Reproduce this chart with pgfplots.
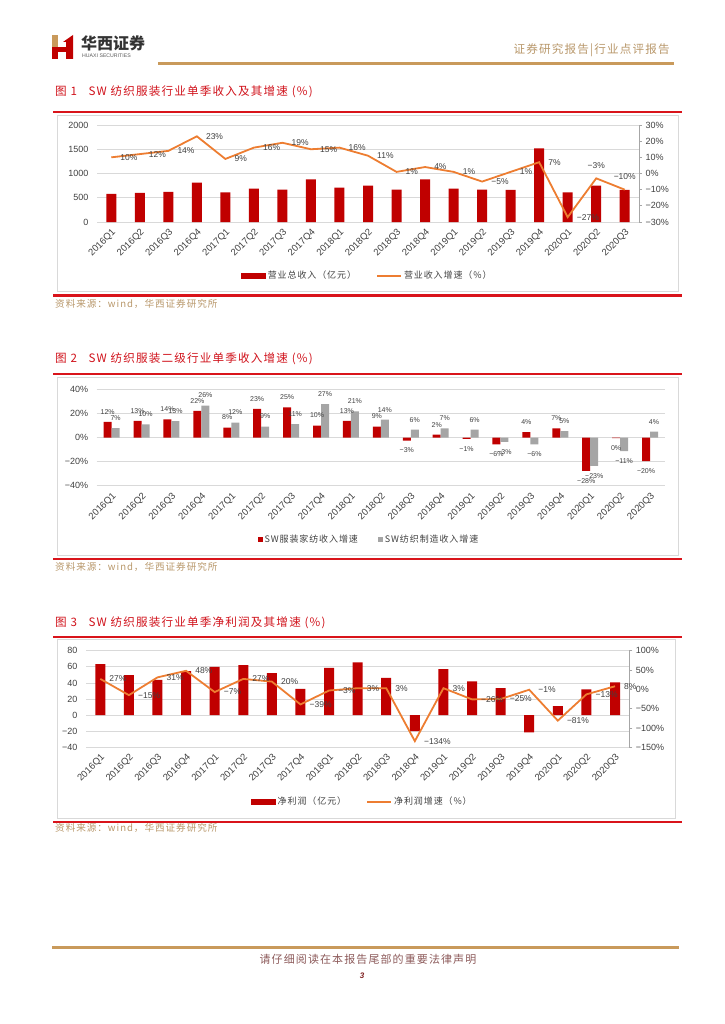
\documentclass[border=0pt]{standalone}
\usepackage{pgfplots}
\pgfplotsset{compat=1.18}
\usepackage{fontspec}
\setmainfont{Liberation Sans}
\newfontfamily\cjk[LetterSpace=10]{Noto Sans CJK SC}
\newfontfamily\cjkn{Noto Sans CJK SC}

\definecolor{bred}{HTML}{C00000}
\definecolor{lorange}{HTML}{ED7D31}
\definecolor{bgray}{HTML}{A5A5A5}
\definecolor{pagered}{HTML}{D9141B}
\definecolor{goldline}{HTML}{C99A5B}
\definecolor{tantext}{HTML}{B8976A}
\definecolor{gridc}{HTML}{D9D9D9}
\definecolor{tickc}{HTML}{404040}
\definecolor{axisc}{HTML}{A6A6A6}
\definecolor{footc}{HTML}{8C5A5A}
\definecolor{titlered}{HTML}{D0121B}
\definecolor{pagenum}{HTML}{7F1F1F}

\tikzset{
  rlab/.style={anchor=west, xshift=8pt, inner sep=1pt, font=\fontsize{8.5}{9}\selectfont, text=tickc},
  ulab/.style={anchor=south, yshift=9pt, inner sep=1pt, font=\fontsize{8.5}{9}\selectfont, text=tickc},
}
\pgfplotsset{
  basechart/.style={scale only axis, clip=false, xmin=-0.5, xmax=18.5,
    /pgf/number format/assume math mode=true,
    /pgf/number format/1000 sep={},
    tick style={draw=none}, axis line style={draw=none},
    ticklabel style={text=tickc, font=\fontsize{9}{10}\selectfont},
  },
  qlabels/.style={xtick={0,...,18},
    xticklabels={2016Q1,2016Q2,2016Q3,2016Q4,2017Q1,2017Q2,2017Q3,2017Q4,2018Q1,2018Q2,2018Q3,2018Q4,2019Q1,2019Q2,2019Q3,2019Q4,2020Q1,2020Q2,2020Q3},
    xticklabel style={rotate=45, anchor=north east, font=\fontsize{9.5}{10}\selectfont, inner sep=1pt}},
  rightline/.style={hide x axis, axis y line*=right,
    every non boxed y axis/.append style={y axis line style={-}},
    y axis line style={draw=axisc, line width=0.7pt, -},
    ytick style={draw=axisc, line width=0.7pt}, tick align=outside, major tick length=3pt},
  leftgrid/.style={ymajorgrids, grid style={gridc, line width=0.7pt}, yticklabel style={xshift=-5pt}},
  chartlegend/.style={legend style={draw=none, fill=none, legend columns=2, anchor=center,
    font=\cjk\fontsize{9}{10}\selectfont, text=tickc, inner sep=0pt,
    /tikz/every even column/.append style={column sep=18pt}}, legend cell align=left},
}

\begin{document}
\begin{tikzpicture}
\path[use as bounding box] (0pt,0pt) rectangle (724pt,-1024pt);

% ---------- header ----------
\fill[goldline] (52pt,-35pt) rectangle (57.5pt,-48pt);
\fill[bred] (52pt,-48pt) rectangle (58pt,-59pt);
\fill[bred] (52pt,-47pt) rectangle (68pt,-52pt);
\fill[bred] (63pt,-42pt) -- (73pt,-35pt) -- (73pt,-59pt) -- (66pt,-59pt) -- (66pt,-42pt) -- cycle;
\node[anchor=west, inner sep=0pt, text=black!80] at (81pt,-43.5pt) {\cjkn\bfseries\fontsize{16}{16}\selectfont 华西证券};
\node[anchor=west, inner sep=0pt, text=black!65] at (82pt,-55.5pt) {\fontsize{5.2}{5.2}\selectfont HUAXI SECURITIES};
\node[anchor=east, inner sep=0pt, text=tantext] at (670pt,-50pt) {\cjk\fontsize{11.6}{11.6}\selectfont 证券研究报告|行业点评报告};
\draw[goldline, line width=2.2pt] (158pt,-63.5pt) -- (674pt,-63.5pt);

% ---------- figure 1 frame ----------
\node[anchor=west, inner sep=0pt, text=titlered] at (55pt,-92pt) {\cjk\fontsize{11.6}{11.6}\selectfont 图 1\quad SW 纺织服装行业单季收入及其增速 (\%)};
\draw[pagered, line width=2pt] (53pt,-112pt) -- (682pt,-112pt);
\draw[gridc, line width=0.8pt] (57pt,-115pt) rectangle (678pt,-291pt);
\draw[pagered, line width=2.2pt] (53pt,-295.5pt) -- (682pt,-295.5pt);
\node[anchor=west, inner sep=0pt, text=tantext] at (55pt,-304pt) {\cjk\fontsize{9.6}{9.6}\selectfont 资料来源：wind，华西证券研究所};

% ---------- figure 2 frame ----------
\node[anchor=west, inner sep=0pt, text=titlered] at (55pt,-359pt) {\cjk\fontsize{11.6}{11.6}\selectfont 图 2\quad SW 纺织服装二级行业单季收入增速 (\%)};
\draw[pagered, line width=2pt] (53pt,-374.3pt) -- (682pt,-374.3pt);
\draw[gridc, line width=0.8pt] (57pt,-377pt) rectangle (678pt,-555pt);
\draw[pagered, line width=2.2pt] (53pt,-559.3pt) -- (682pt,-559.3pt);
\node[anchor=west, inner sep=0pt, text=tantext] at (55pt,-567pt) {\cjk\fontsize{9.6}{9.6}\selectfont 资料来源：wind，华西证券研究所};

% ---------- figure 3 frame ----------
\node[anchor=west, inner sep=0pt, text=titlered] at (55pt,-622.3pt) {\cjk\fontsize{11.6}{11.6}\selectfont 图 3\quad SW 纺织服装行业单季净利润及其增速 (\%)};
\draw[pagered, line width=2pt] (53pt,-636.7pt) -- (682pt,-636.7pt);
\draw[gridc, line width=0.8pt] (57pt,-639pt) rectangle (675pt,-818pt);
\draw[pagered, line width=2.2pt] (53pt,-821.7pt) -- (682pt,-821.7pt);
\node[anchor=west, inner sep=0pt, text=tantext] at (55pt,-828.3pt) {\cjk\fontsize{9.6}{9.6}\selectfont 资料来源：wind，华西证券研究所};

% ---------- footer ----------
\draw[goldline, line width=2.5pt] (52pt,-947.3pt) -- (679pt,-947.3pt);
\node[inner sep=0pt, text=footc] at (368pt,-959pt) {\cjk\fontsize{11}{11}\selectfont 请仔细阅读在本报告尾部的重要法律声明};
\node[inner sep=0pt, text=pagenum] at (362pt,-976pt) {\fontsize{8}{8}\selectfont\bfseries\itshape 3};

% ================= chart 1 =================
\begin{axis}[basechart, qlabels, leftgrid, at={(97pt,-222pt)}, anchor=south west,
  width=542pt, height=97pt, ymin=0, ymax=2000, ytick={0,500,1000,1500,2000},
  ybar, bar width=10pt]
\addplot[fill=bred, draw=none] coordinates {
(0,580) (1,600) (2,620) (3,810) (4,610) (5,690) (6,670) (7,880) (8,710) (9,750)
(10,670) (11,880) (12,690) (13,670) (14,660) (15,1520) (16,610) (17,750) (18,660)};
\end{axis}
\begin{axis}[basechart, rightline, chartlegend, at={(97pt,-222pt)}, anchor=south west,
  width=542pt, height=97pt, ymin=-30, ymax=30, ytick={-30,-20,-10,0,10,20,30},
  yticklabels={−30\%,−20\%,−10\%,0\%,10\%,20\%,30\%},
  legend style={at={(0.499,-0.554)}}]
\addlegendimage{legend image code/.code={\fill[bred] (0pt,-2.5pt) rectangle (24pt,2.5pt);}}
\addlegendentry{营业总收入（亿元）}
\addplot[lorange, line width=1.8pt, mark=none,
  legend image code/.code={\draw[lorange, line width=2pt] (0pt,0pt) -- (24pt,0pt);}]
  coordinates {
(0,10) (1,12) (2,14) (3,23) (4,9) (5,16) (6,19) (7,15) (8,16) (9,11)
(10,1) (11,4) (12,1) (13,-5) (14,1) (15,7) (16,-27) (17,-3) (18,-10)};
\addlegendentry{营业收入增速（\%）}
\node[rlab] at (axis cs:0,10) {10\%};
\node[rlab] at (axis cs:1,12) {12\%};
\node[rlab] at (axis cs:2,14) {14\%};
\node[rlab] at (axis cs:3,23) {23\%};
\node[rlab] at (axis cs:4,9) {9\%};
\node[rlab] at (axis cs:5,16) {16\%};
\node[rlab] at (axis cs:6,19) {19\%};
\node[rlab] at (axis cs:7,15) {15\%};
\node[rlab] at (axis cs:8,16) {16\%};
\node[rlab] at (axis cs:9,11) {11\%};
\node[rlab] at (axis cs:10,1) {1\%};
\node[rlab] at (axis cs:11,4) {4\%};
\node[rlab] at (axis cs:12,1) {1\%};
\node[rlab] at (axis cs:13,-5) {−5\%};
\node[rlab] at (axis cs:14,1) {1\%};
\node[rlab] at (axis cs:15,7) {7\%};
\node[rlab] at (axis cs:16,-27) {−27\%};
\node[ulab] at (axis cs:17,-3) {−3\%};
\node[ulab] at (axis cs:18,-10) {−10\%};
\end{axis}

% ================= chart 2 =================
\begin{axis}[basechart, qlabels, leftgrid, chartlegend, at={(96.7pt,-485.7pt)}, anchor=south west,
  width=568.3pt, height=96.4pt, ymin=-40, ymax=40, ytick={-40,-20,0,20,40},
  yticklabels={−40\%,−20\%,0\%,20\%,40\%},
  ybar=0pt, bar width=8pt,
  nodes near coords, point meta=explicit symbolic,
  visualization depends on={y \as \myy},
  nodes near coords style={font=\fontsize{7}{8}\selectfont, text=tickc, inner sep=0pt,
    anchor=center, yshift={ifthenelse(\myy<0,-10,10)}},
  legend style={at={(0.479,-0.556)}}]
\addplot[fill=bred, draw=none,
  legend image code/.code={\fill[bred] (0pt,-2.5pt) rectangle (5pt,2.5pt);}]
  table[meta=l] {
x y l
0 12.9 12\%
1 13.8 13\%
2 15.0 14\%
3 22.1 22\%
4 8.3 8\%
5 23.7 23\%
6 25.1 25\%
7 9.9 10\%
8 13.8 13\%
9 9.1 9\%
10 -2.5 −3\%
11 2.3 2\%
12 -1.2 −1\%
13 -5.8 −6\%
14 4.5 4\%
15 7.5 7\%
16 -27.7 −28\%
17 -0.5 0\%
18 -19.6 −20\%
};
\addlegendentry{SW服装家纺收入增速}
\addplot[fill=bgray, draw=none,
  legend image code/.code={\fill[bgray] (0pt,-2.5pt) rectangle (5pt,2.5pt);}]
  table[meta=l] {
x y l
0 7.7 7\%
1 10.8 10\%
2 13.6 13\%
3 26.5 26\%
4 12.4 12\%
5 9.1 9\%
6 11.2 11\%
7 27.8 27\%
8 21.6 21\%
9 14.8 14\%
10 6.5 6\%
11 7.5 7\%
12 6.5 6\%
13 -3.6 −3\%
14 -5.8 −6\%
15 5.3 5\%
16 -23.5 −23\%
17 -11.4 −11\%
18 4.8 4\%
};
\addlegendentry{SW纺织制造收入增速}
\end{axis}

% ================= chart 3 =================
\begin{axis}[basechart, qlabels, leftgrid, at={(86pt,-747.3pt)}, anchor=south west,
  width=543.3pt, height=96.6pt, ymin=-40, ymax=80, ytick={-40,-20,0,20,40,60,80},
  yticklabels={−40,−20,0,20,40,60,80},
  ybar, bar width=10pt]
\addplot[fill=bred, draw=none] coordinates {
(0,63.4) (1,49.7) (2,43.9) (3,54.7) (4,60.0) (5,62.1) (6,52.2) (7,32.7) (8,58.8) (9,65.4)
(10,46.4) (11,-20.0) (12,57.1) (13,41.8) (14,33.5) (15,-21.5) (16,11.2) (17,31.9) (18,40.6)};
\end{axis}
\begin{axis}[basechart, rightline, chartlegend, at={(86pt,-747.3pt)}, anchor=south west,
  width=543.3pt, height=96.6pt, ymin=-150, ymax=100, ytick={-150,-100,-50,0,50,100},
  yticklabels={−150\%,−100\%,−50\%,0\%,50\%,100\%},
  legend style={at={(0.509,-0.563)}}]
\addlegendimage{legend image code/.code={\fill[bred] (0pt,-2.5pt) rectangle (24pt,2.5pt);}}
\addlegendentry{净利润（亿元）}
\addplot[lorange, line width=1.8pt, mark=none,
  legend image code/.code={\draw[lorange, line width=2pt] (0pt,0pt) -- (24pt,0pt);}]
  coordinates {
(0,27) (1,-15) (2,31) (3,48) (4,-7) (5,27) (6,20) (7,-39) (8,-3) (9,3)
(10,3) (11,-134) (12,3) (13,-26) (14,-25) (15,-1) (16,-81) (17,-13) (18,8)};
\addlegendentry{净利润增速（\%）}
\node[rlab] at (axis cs:0,27) {27\%};
\node[rlab] at (axis cs:1,-15) {−15\%};
\node[rlab] at (axis cs:2,31) {31\%};
\node[rlab] at (axis cs:3,48) {48\%};
\node[rlab] at (axis cs:4,-7) {−7\%};
\node[rlab] at (axis cs:5,27) {27\%};
\node[rlab] at (axis cs:6,20) {20\%};
\node[rlab] at (axis cs:7,-39) {−39\%};
\node[rlab] at (axis cs:8,-3) {−3\%};
\node[rlab] at (axis cs:9,3) {3\%};
\node[rlab] at (axis cs:10,3) {3\%};
\node[rlab] at (axis cs:11,-134) {−134\%};
\node[rlab] at (axis cs:12,3) {3\%};
\node[rlab] at (axis cs:13,-26) {−26\%};
\node[rlab] at (axis cs:14,-25) {−25\%};
\node[rlab] at (axis cs:15,-1) {−1\%};
\node[rlab] at (axis cs:16,-81) {−81\%};
\node[rlab] at (axis cs:17,-13) {−13\%};
\node[rlab] at (axis cs:18,8) {8\%};
\end{axis}
\end{tikzpicture}
\end{document}
